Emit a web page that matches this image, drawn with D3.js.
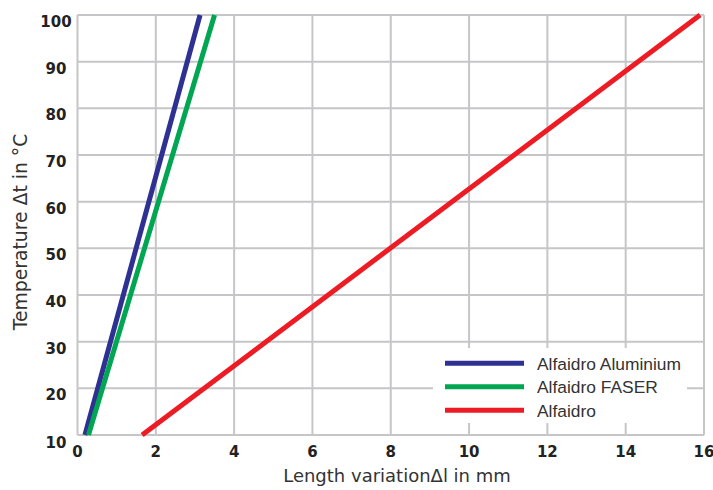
<!DOCTYPE html>
<html><head><meta charset="utf-8">
<script src="https://cdn.jsdelivr.net/npm/d3@7"></script>
<style>body{margin:0;background:#fff}</style>
</head><body><svg id="c" width="713" height="490"></svg>
<script>
const xTicks = [0,2,4,6,8,10,12,14,16];
const yTicks = [10,20,30,40,50,60,70,80,90,100];
const seriesNames = ["Alfaidro Aluminium","Alfaidro FASER","Alfaidro"];
const seriesColors = ["#2e3192","#00a651","#ed1c24"];
const aluminiumPts = [[0.19,10],[3.13,100]];
const faserPts = [[0.28,10],[3.5,100]];
const alfaidroPts = [[1.65,10],[15.9,100]];
const xTitle = "Length variationΔl in mm";
const yTitle = "Temperature Δt in °C";

const svg = d3.select("#c");
const x = d3.scaleLinear().domain([0,16]).range([77.5,704]);
const y = d3.scaleLinear().domain([10,100]).range([435,15]);
const grid = "#c6c6c8";

const g = svg.append("g");
g.selectAll(".vx").data(xTicks).join("line")
  .attr("x1",d=>x(d)).attr("x2",d=>x(d)).attr("y1",y(10)).attr("y2",y(100))
  .attr("stroke",grid).attr("stroke-width",2);
g.selectAll(".hy").data(yTicks).join("line")
  .attr("y1",d=>y(d)).attr("y2",d=>y(d)).attr("x1",x(0)).attr("x2",x(16))
  .attr("stroke",grid).attr("stroke-width",2);

// legend background
const lg = svg.append("g");
lg.append("rect").attr("x",433).attr("y",348).attr("width",254).attr("height",75).attr("fill","#fff");

const line = d3.line().x(d=>x(d[0])).y(d=>y(d[1]));
[aluminiumPts,faserPts,alfaidroPts].forEach((pts,i)=>{
  svg.append("path").attr("d",line(pts)).attr("fill","none")
    .attr("stroke",seriesColors[i]).attr("stroke-width",5);
});

seriesNames.forEach((n,i)=>{
  const yy = 363.3 + i*23.5;
  lg.append("line").attr("x1",445).attr("x2",524).attr("y1",yy).attr("y2",yy)
    .attr("stroke",seriesColors[i]).attr("stroke-width",5);
  lg.append("text").attr("x",537).attr("y",yy+6.3).text(n)
    .attr("font-family","Liberation Sans, Arial, sans-serif").attr("font-size",17.4).attr("fill","#333");
});

const tf = "DejaVu Sans, sans-serif";
svg.selectAll(".yl").data(yTicks).join("text")
  .attr("x",56).attr("y",d=>y(d)+12 + (d===10?1:0)).attr("text-anchor","middle")
  .attr("font-family",tf).attr("font-weight","bold").attr("font-size",15).attr("fill","#222")
  .text(d=>d);
svg.selectAll(".xl").data(xTicks).join("text")
  .attr("x",d=>x(d)).attr("y",457).attr("text-anchor","middle")
  .attr("font-family",tf).attr("font-weight","bold").attr("font-size",15).attr("fill","#222")
  .text(d=>d);

svg.append("text").attr("x",397).attr("y",482).attr("text-anchor","middle")
  .attr("font-family","DejaVu Sans, sans-serif").attr("font-size",18).attr("fill","#333").text(xTitle);
svg.append("text").attr("transform","translate(27,232) rotate(-90)").attr("text-anchor","middle")
  .attr("font-family","DejaVu Sans, sans-serif").attr("font-size",18.8).attr("fill","#333").text(yTitle);
</script></body></html>
